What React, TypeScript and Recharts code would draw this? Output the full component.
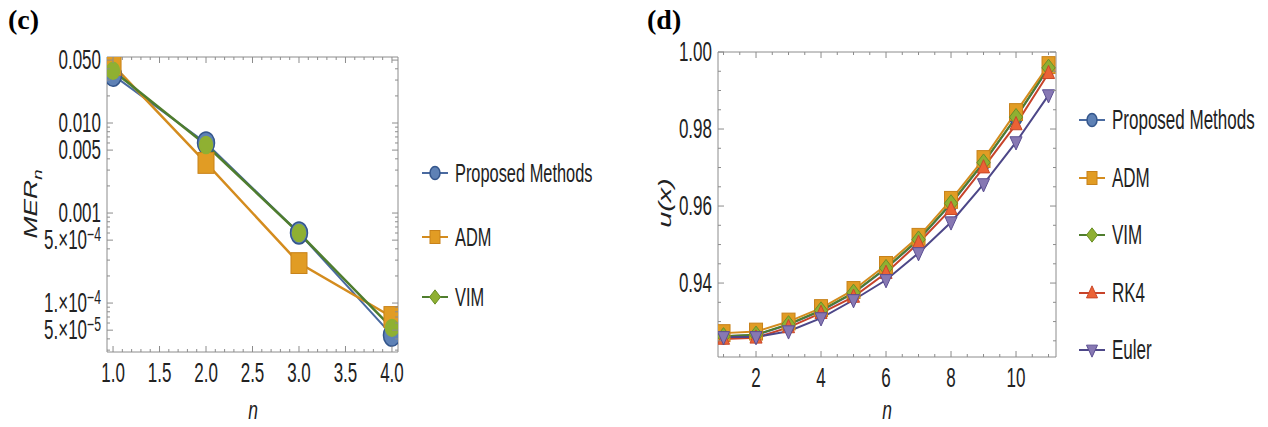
import { LineChart, Line, XAxis, YAxis } from 'recharts';

// ---- panel (c): MER_n, log scale ----
const nC = [1, 2, 3, 4];
const merProposed = [0.034, 0.006, 0.0006, 0.000044];
const merADM = [0.044, 0.0036, 0.000278, 0.00007];
const merVIM = [0.038, 0.0057, 0.0006, 0.000053];

const xTicksC = [1.0, 1.5, 2.0, 2.5, 3.0, 3.5, 4.0];
const yTicksC = [0.05, 0.01, 0.005, 0.001, 0.0005, 0.0001, 0.00005];
const yLabelsC = ['0.050', '0.010', '0.005', '0.001', '5.×10^−4', '1.×10^−4', '5.×10^−5'];

// ---- panel (d): u(x) ----
const nD = [1, 2, 3, 4, 5, 6, 7, 8, 9, 10, 11];
const uProposed = [0.9262, 0.9265, 0.9292, 0.9328, 0.9374, 0.9438, 0.9512, 0.9606, 0.9712, 0.983, 0.9958];
const uADM = [0.927, 0.9274, 0.93, 0.9335, 0.9382, 0.9447, 0.952, 0.9616, 0.9722, 0.9844, 0.9966];
const uVIM = [0.9262, 0.9266, 0.9293, 0.9329, 0.9375, 0.9439, 0.9513, 0.9607, 0.9713, 0.9831, 0.9959];
const uRK4 = [0.9255, 0.9258, 0.9285, 0.9322, 0.9364, 0.9426, 0.9504, 0.9592, 0.97, 0.9812, 0.9945];
const uEuler = [0.926, 0.926, 0.9275, 0.9309, 0.9356, 0.9408, 0.9478, 0.9558, 0.9657, 0.9766, 0.9888];

const xTicksD = [2, 4, 6, 8, 10];
const yTicksD = [0.94, 0.96, 0.98, 1.0];

const dataC = nC.map((n, i) => ({ n, proposed: merProposed[i], adm: merADM[i], vim: merVIM[i] }));
const dataD = nD.map((n, i) => ({
  n, proposed: uProposed[i], adm: uADM[i], vim: uVIM[i], rk4: uRK4[i], euler: uEuler[i],
}));

// minor tick helpers
const linMinor = (a: number, b: number, step: number) => {
  const out: number[] = [];
  for (let v = a; v <= b + 1e-9; v += step) out.push(+v.toFixed(6));
  return out;
};
const logMinor = (lo: number, hi: number) => {
  const out: number[] = [];
  for (let e = -6; e <= 0; e++) {
    for (let k = 1; k <= 9; k++) {
      const v = k * Math.pow(10, e);
      if (v >= lo && v <= hi) out.push(v);
    }
  }
  return out;
};

const FONT = "'Liberation Sans', Arial, sans-serif";
const FRAME = '#8c8c8c';

const C = {
  blue: { fill: '#5E81B5', stroke: '#34568c', line: '#4a6aa0' },
  orange: { fill: '#E19C24', stroke: '#c8821a', line: '#d48c1e' },
  green: { fill: '#8FB032', stroke: '#6a8f28', line: '#4f7d2e' },
  red: { fill: '#EB6235', stroke: '#c9482a', line: '#c7432a' },
  purple: { fill: '#8778B3', stroke: '#5b4f92', line: '#4d4788' },
};

// condensed label: Arial squeezed horizontally like the reference
function Cond({ x, y, text, anchor = 'middle', size = 27 }: { x: number; y: number; text: string; anchor?: string; size?: number }) {
  const parts = text.split('^');
  return (
    <text
      transform={`translate(${x},${y}) scale(0.63,1)`}
      textAnchor={anchor as any}
      fontFamily={FONT}
      fontSize={size}
      fill="#222"
    >
      {parts[0]}
      {parts[1] && (
        <tspan dy={-8} fontSize={size * 0.72}>{parts[1]}</tspan>
      )}
    </text>
  );
}

const near = (arr: number[], v: number) => arr.findIndex((m) => Math.abs(m - v) / Math.max(Math.abs(m), 1e-12) < 1e-6);

function makeTick(side: 'bottom' | 'top' | 'left' | 'right', majors: number[], labels: string[] | null) {
  return (p: any) => {
    const { x, y, payload } = p;
    const idx = near(majors, payload.value);
    const major = idx >= 0;
    const len = major ? 6 : 3;
    let line;
    if (side === 'bottom') line = <line x1={x} y1={y} x2={x} y2={y - len} stroke={FRAME} />;
    else if (side === 'top') line = <line x1={x} y1={y} x2={x} y2={y + len} stroke={FRAME} />;
    else if (side === 'left') line = <line x1={x} y1={y} x2={x + len} y2={y} stroke={FRAME} />;
    else line = <line x1={x} y1={y} x2={x - len} y2={y} stroke={FRAME} />;
    let label = null;
    if (major && labels) {
      if (side === 'bottom') label = <Cond x={x} y={y + 30} text={labels[idx]} />;
      if (side === 'left') label = <Cond x={x - 6} y={y + 9} text={labels[idx]} anchor="end" />;
    }
    return (
      <g>
        {line}
        {label}
      </g>
    );
  };
}

type Shape = 'circle' | 'square' | 'diamond' | 'triUp' | 'triDown';

function marker(shape: Shape, cx: number, cy: number, s: number, fill: string, stroke: string, key?: any) {
  const w = s;
  const h = s * 1.3;
  switch (shape) {
    case 'circle':
      return <ellipse key={key} cx={cx} cy={cy} rx={w} ry={h} fill={fill} stroke={stroke} strokeWidth={1.5} />;
    case 'square':
      return <rect key={key} x={cx - w} y={cy - h} width={2 * w} height={2 * h} fill={fill} stroke={stroke} strokeWidth={1} />;
    case 'diamond':
      return (
        <polygon key={key} points={`${cx},${cy - h * 1.1} ${cx + w * 1.1},${cy} ${cx},${cy + h * 1.1} ${cx - w * 1.1},${cy}`}
          fill={fill} stroke={stroke} strokeWidth={1} />
      );
    case 'triUp':
      return (
        <polygon key={key} points={`${cx},${cy - h * 1.1} ${cx + w * 1.1},${cy + h * 0.75} ${cx - w * 1.1},${cy + h * 0.75}`}
          fill={fill} stroke={stroke} strokeWidth={1} />
      );
    case 'triDown':
      return (
        <polygon key={key} points={`${cx},${cy + h * 1.1} ${cx + w * 1.1},${cy - h * 0.75} ${cx - w * 1.1},${cy - h * 0.75}`}
          fill={fill} stroke={stroke} strokeWidth={1} />
      );
  }
}

const dotFn = (shape: Shape, s: number, col: { fill: string; stroke: string }) => (p: any) =>
  marker(shape, p.cx, p.cy, s, col.fill, col.stroke, `d-${p.index}`);

function LegendItem({ x, y, shape, col, label, s, size }: any) {
  return (
    <g>
      <line x1={x - 13} y1={y} x2={x + 13} y2={y} stroke={col.line} strokeWidth={2} />
      {marker(shape, x, y, s, col.fill, col.stroke)}
      <Cond x={x + 20} y={y + 9} text={label} anchor="start" size={size} />
    </g>
  );
}

export default function App() {
  const xDomC: [number, number] = [0.935, 4.065];
  const yDomC: [number, number] = [2.86e-5, 0.0541];
  const xDomD: [number, number] = [0.83, 11.23];
  const yDomD: [number, number] = [0.9208, 1.0];

  const xAllC = linMinor(1, 4, 0.1);
  const yAllC = logMinor(yDomC[0], yDomC[1]);
  const xAllD = linMinor(1, 11, 0.5);
  const yAllD = linMinor(0.925, 1.0, 0.005);

  const axisCommon = { tickSize: 0, tickMargin: 0, tickLine: false, axisLine: { stroke: FRAME }, interval: 0 as const };

  return (
    <div style={{ position: 'absolute', left: 0, top: 0, width: 1268, height: 427, background: '#fff' }}>
      {/* panel (c) */}
      <div style={{ position: 'absolute', left: 0, top: 0 }}>
        <LineChart width={600} height={427} data={dataC} margin={{ top: 56, right: 201, bottom: 74, left: 106 }}>
          <XAxis dataKey="n" type="number" domain={xDomC} allowDataOverflow ticks={xAllC} height={1} {...axisCommon}
            tick={makeTick('bottom', xTicksC, xTicksC.map((v) => v.toFixed(1)))} />
          <XAxis xAxisId="top" orientation="top" dataKey="n" type="number" domain={xDomC} allowDataOverflow
            ticks={xAllC} height={1} {...axisCommon} tick={makeTick('top', xTicksC, null)} />
          <YAxis type="number" scale="log" domain={yDomC} allowDataOverflow ticks={yAllC} width={1} {...axisCommon}
            tick={makeTick('left', yTicksC, yLabelsC)} />
          <YAxis yAxisId="right" orientation="right" type="number" scale="log" domain={yDomC} allowDataOverflow
            ticks={yAllC} width={1} {...axisCommon} tick={makeTick('right', yTicksC, null)} />
          <Line dataKey="proposed" stroke={C.blue.line} strokeWidth={2} isAnimationActive={false}
            dot={dotFn('circle', 8.5, C.blue)} />
          <Line dataKey="adm" stroke={C.orange.line} strokeWidth={2.5} isAnimationActive={false}
            dot={dotFn('square', 8, C.orange)} />
          <Line dataKey="vim" stroke={C.green.line} strokeWidth={2.5} isAnimationActive={false}
            dot={dotFn('circle', 6.5, { fill: C.green.fill, stroke: C.green.fill })} />
        </LineChart>
      </div>

      {/* panel (d) */}
      <div style={{ position: 'absolute', left: 620, top: 0 }}>
        <LineChart width={648} height={427} data={dataD} margin={{ top: 51, right: 211, bottom: 69, left: 97 }}>
          <XAxis dataKey="n" type="number" domain={xDomD} allowDataOverflow ticks={xAllD} height={1} {...axisCommon}
            tick={makeTick('bottom', xTicksD, xTicksD.map(String))} />
          <XAxis xAxisId="top" orientation="top" dataKey="n" type="number" domain={xDomD} allowDataOverflow
            ticks={xAllD} height={1} {...axisCommon} tick={makeTick('top', xTicksD, null)} />
          <YAxis type="number" domain={yDomD} allowDataOverflow ticks={yAllD} width={1} {...axisCommon}
            tick={makeTick('left', yTicksD, yTicksD.map((v) => v.toFixed(2)))} />
          <YAxis yAxisId="right" orientation="right" type="number" domain={yDomD} allowDataOverflow
            ticks={yAllD} width={1} {...axisCommon} tick={makeTick('right', yTicksD, null)} />
          <Line dataKey="proposed" stroke={C.blue.line} strokeWidth={2} isAnimationActive={false}
            dot={dotFn('circle', 6, C.blue)} />
          <Line dataKey="adm" stroke={C.orange.line} strokeWidth={2} isAnimationActive={false}
            dot={dotFn('square', 6.5, C.orange)} />
          <Line dataKey="vim" stroke={C.green.line} strokeWidth={2} isAnimationActive={false}
            dot={dotFn('diamond', 6, C.green)} />
          <Line dataKey="rk4" stroke={C.red.line} strokeWidth={2} isAnimationActive={false}
            dot={dotFn('triUp', 5.5, C.red)} />
          <Line dataKey="euler" stroke={C.purple.line} strokeWidth={2} isAnimationActive={false}
            dot={dotFn('triDown', 5.5, C.purple)} />
        </LineChart>
      </div>

      {/* titles, axis labels, legends */}
      <svg width={1268} height={427} style={{ position: 'absolute', left: 0, top: 0, pointerEvents: 'none' }}>
        <text x={8} y={29} fontFamily="'Liberation Serif', 'Times New Roman', serif" fontWeight="bold" fontSize={28}>(c)</text>
        <text x={647} y={29} fontFamily="'Liberation Serif', 'Times New Roman', serif" fontWeight="bold" fontSize={28}>(d)</text>

        <text transform="translate(37,204) rotate(-90) scale(1.1,0.8)" textAnchor="middle" fontFamily={FONT}
          fontStyle="italic" fontSize={24} fill="#222">
          MER<tspan dy={6} fontSize={17}>n</tspan>
        </text>
        <text transform="translate(671,203) rotate(-90) scale(1.2,0.75)" textAnchor="middle" fontFamily={FONT}
          fontStyle="italic" fontSize={24} fill="#222">
          u(x)
        </text>
        <text transform="translate(253,419) scale(0.7,1)" textAnchor="middle" fontFamily={FONT} fontStyle="italic"
          fontSize={25} fill="#222">n</text>
        <text transform="translate(887,419) scale(0.7,1)" textAnchor="middle" fontFamily={FONT} fontStyle="italic"
          fontSize={25} fill="#222">n</text>

        <LegendItem x={435} y={173} shape="circle" col={C.blue} label="Proposed Methods" s={5} size={26} />
        <LegendItem x={435} y={237} shape="square" col={C.orange} label="ADM" s={5} size={26} />
        <LegendItem x={435} y={297} shape="diamond" col={C.green} label="VIM" s={5} size={26} />

        <LegendItem x={1092} y={120} shape="circle" col={C.blue} label="Proposed Methods" s={5} size={27} />
        <LegendItem x={1092} y={178} shape="square" col={C.orange} label="ADM" s={5} size={27} />
        <LegendItem x={1092} y={235} shape="diamond" col={C.green} label="VIM" s={5} size={27} />
        <LegendItem x={1092} y={293} shape="triUp" col={C.red} label="RK4" s={5} size={27} />
        <LegendItem x={1092} y={350} shape="triDown" col={C.purple} label="Euler" s={5} size={27} />
      </svg>
    </div>
  );
}
